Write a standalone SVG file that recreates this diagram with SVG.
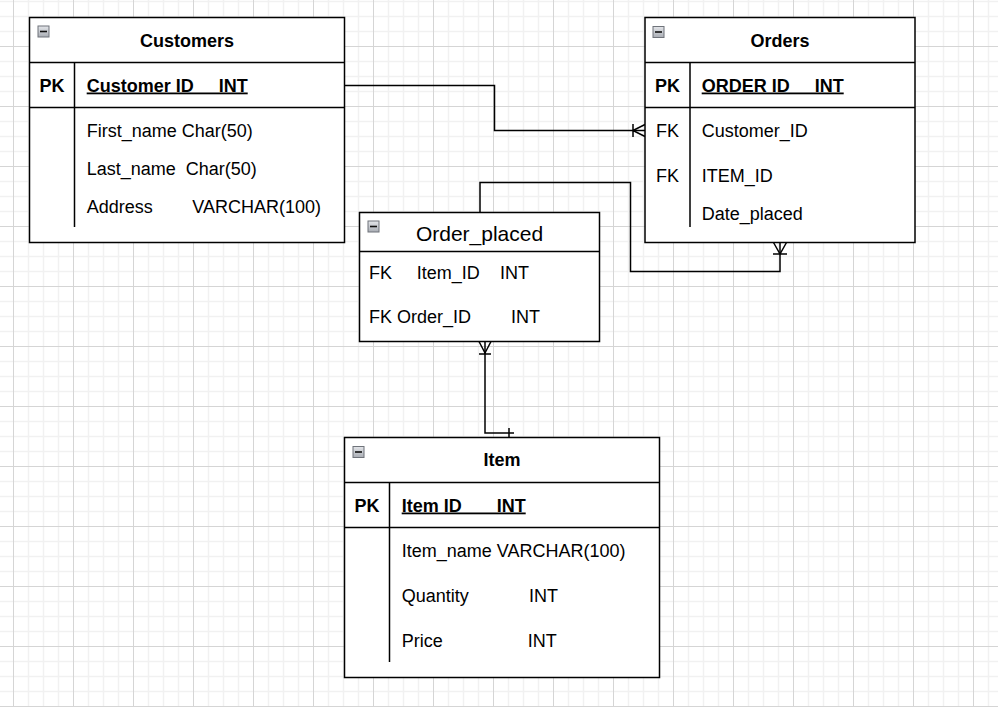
<svg xmlns="http://www.w3.org/2000/svg" width="998" height="707" viewBox="0 0 998 707">
<style>
.box{fill:#fff;stroke:#000;stroke-width:1.5}
.ln{fill:none;stroke:#000;stroke-width:1.5}
.t{font-family:"Liberation Sans",Arial,sans-serif;font-size:18px;fill:#000}
.b{font-weight:bold}
.u{text-decoration:underline}
.c{text-anchor:middle}
.conn{fill:none;stroke:#000;stroke-width:1.5}
</style>
<defs>
<pattern id="grid" x="13" y="46" width="60" height="60" patternUnits="userSpaceOnUse">
<path d="M15.5 0V60M30.5 0V60M45.5 0V60M0 15.5H60M0 30.5H60M0 45.5H60" stroke="#f1f1f1" stroke-width="1.5" fill="none"/>
<path d="M0.5 0V60M0 0.5H60" stroke="#d5d5d5" stroke-width="1" fill="none"/>
</pattern>
<linearGradient id="ig" x1="0" y1="0" x2="0" y2="1">
<stop offset="0" stop-color="#e4e6ea"/>
<stop offset="1" stop-color="#a9adb4"/>
</linearGradient>
<g id="minus">
<rect x="0.5" y="0.5" width="11" height="11" fill="url(#ig)" stroke="#6f737a" stroke-width="1"/>
<path d="M2.5 6H9.5" stroke="#111" stroke-width="1.6"/>
</g>
</defs>
<rect width="998" height="707" fill="#fff"/>
<rect width="998" height="707" fill="url(#grid)"/>

<g id="connectors">
<path class="conn" d="M345 85.5H494.5V130.5H645"/>
<path class="conn" d="M633 124V137M633 130.5L645 124.5M633 130.5L645 136.5"/>
<path class="conn" d="M480 212.5V182.5H630.5V271.5H780V242.5"/>
<path class="conn" d="M773.5 242.5L780 254L786.5 242.5M773 254H787"/>
<path class="conn" d="M485 341.5V433H514"/>
<path class="conn" d="M479 341.5L485 353L491 341.5M479 354H491"/>
<path class="conn" d="M509 428V437.5"/>
</g>

<g id="customers">
<rect class="box" x="29.5" y="17.5" width="315" height="225"/>
<path class="ln" d="M29.5 62.5H344.5M29.5 107.5H344.5M74.5 62.5V227"/>
<use href="#minus" x="37.5" y="25.5"/>
<text class="t b c" x="187" y="46.5">Customers</text>
<text class="t b c" x="52" y="91.5">PK</text>
<text class="t b u" x="86.7" y="91.5" xml:space="preserve" style="white-space:pre">Customer ID     INT</text>
<text class="t" x="86.7" y="136.5">First_name Char(50)</text>
<text class="t" x="86.7" y="174.5" xml:space="preserve" style="white-space:pre">Last_name  Char(50)</text>
<text class="t" x="86.7" y="212.5">Address</text>
<text class="t" x="192.3" y="212.5">VARCHAR(100)</text>
</g>

<g id="orders">
<rect class="box" x="645" y="17.5" width="270" height="225"/>
<path class="ln" d="M645 62.5H915M645 107.5H915M690 62.5V227"/>
<use href="#minus" x="652.5" y="26"/>
<text class="t b c" x="780" y="46.5">Orders</text>
<text class="t b c" x="667.5" y="91.5">PK</text>
<text class="t b u" x="701.7" y="91.5" xml:space="preserve" style="white-space:pre">ORDER ID     INT</text>
<text class="t c" x="667.5" y="136.5">FK</text>
<text class="t" x="701.7" y="136.5">Customer_ID</text>
<text class="t c" x="667.5" y="181.5">FK</text>
<text class="t" x="701.7" y="181.5">ITEM_ID</text>
<text class="t" x="701.7" y="219.5">Date_placed</text>
</g>

<g id="order_placed">
<rect class="box" x="359.5" y="212.5" width="240" height="129"/>
<path class="ln" d="M359.5 251.5H599.5"/>
<use href="#minus" x="367.5" y="220.5"/>
<text class="t c" x="479.5" y="240.5" style="font-size:21px">Order_placed</text>
<text class="t" x="369" y="278.5">FK</text>
<text class="t" x="416.7" y="278.5">Item_ID</text>
<text class="t" x="500" y="278.5">INT</text>
<text class="t" x="369" y="322.5">FK Order_ID</text>
<text class="t" x="511" y="322.5">INT</text>
</g>

<g id="item">
<rect class="box" x="344.5" y="437.5" width="315" height="240"/>
<path class="ln" d="M344.5 482.5H659.5M344.5 527.5H659.5M389.5 482.5V662"/>
<use href="#minus" x="352.5" y="446"/>
<text class="t b c" x="502" y="466">Item</text>
<text class="t b c" x="367" y="511.5">PK</text>
<text class="t b u" x="401.7" y="511.5" xml:space="preserve" style="white-space:pre">Item ID       INT</text>
<text class="t" x="401.7" y="556.5">Item_name VARCHAR(100)</text>
<text class="t" x="401.7" y="601.5">Quantity</text>
<text class="t" x="529" y="601.5">INT</text>
<text class="t" x="401.7" y="646.5">Price</text>
<text class="t" x="527.7" y="646.5">INT</text>
</g>
</svg>
